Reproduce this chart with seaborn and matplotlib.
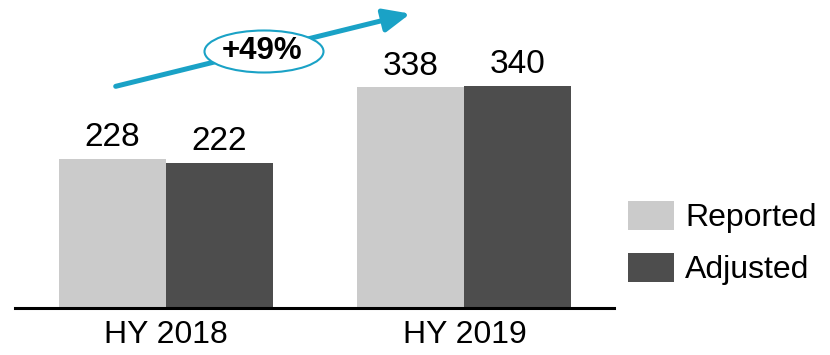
import matplotlib
matplotlib.use("Agg")
import matplotlib.pyplot as plt
from matplotlib.patches import FancyArrowPatch, Ellipse
import seaborn as sns
import pandas as pd

periods = ["HY 2018", "HY 2019"]
series = ["Reported", "Adjusted"]
reported = [228, 338]
adjusted = [222, 340]
growth_label = "+49%"
colors = ["#CBCBCB", "#4D4D4D"]
accent = "#1AA2C6"

df = pd.DataFrame({
    "period": periods * 2,
    "type": [series[0]] * 2 + [series[1]] * 2,
    "value": reported + adjusted,
})

sns.set_style("white")
plt.rcParams["font.family"] = ["Liberation Sans", "DejaVu Sans"]
plt.rcParams["text.color"] = "black"
plt.rcParams["xtick.color"] = "black"
plt.rcParams["xtick.labelcolor"] = "black"

W, H = 830, 355
fig = plt.figure(figsize=(W / 100, H / 100), dpi=100)
ax = fig.add_axes([15 / W, (H - 307.5) / H, 599 / W, 307.5 / H])

sns.barplot(data=df, x="period", y="value", hue="type", palette=colors,
            width=0.717, gap=0, saturation=1, linewidth=0, ax=ax)

ax.set_ylim(0, 472)
ax.set_xlim(-0.506, 1.501)
for s in ["top", "right", "left"]:
    ax.spines[s].set_visible(False)
ax.spines["bottom"].set_linewidth(2.2)
ax.spines["bottom"].set_color("black")
ax.set_yticks([])
ax.set_xlabel("")
ax.set_ylabel("")
ax.tick_params(axis="x", length=0, pad=9, labelsize=23, labelcolor="black")

for c in ax.containers:
    ax.bar_label(c, fmt="%d", padding=4, fontsize=24, color="black")

handles, labels = ax.get_legend_handles_labels()
ax.legend(handles, labels, loc="upper left", bbox_to_anchor=(628 / W, 1 - 200.5 / H),
          bbox_transform=fig.transFigure, frameon=False, fontsize=23,
          handlelength=1.44, handleheight=1.066, handletextpad=0.35,
          labelspacing=0.6, borderpad=0, borderaxespad=0)

# growth arrow
arrow = FancyArrowPatch((113 / W, 1 - 87 / H), (413 / W, 1 - 13 / H),
                        transform=fig.transFigure, arrowstyle="-|>,head_length=16,head_width=7",
                        mutation_scale=1, color=accent, linewidth=3.6, zorder=5)
fig.add_artist(arrow)
ell = Ellipse((264 / W, 1 - 51.5 / H), 119 / W, 42 / H, transform=fig.transFigure,
              facecolor="white", edgecolor=accent, linewidth=1.5, zorder=6)
fig.add_artist(ell)
fig.text(262 / W, 1 - 51 / H, growth_label, ha="center", va="center",
         fontsize=22.5, fontweight="bold", zorder=7)

fig.savefig("out.png", dpi=100)
